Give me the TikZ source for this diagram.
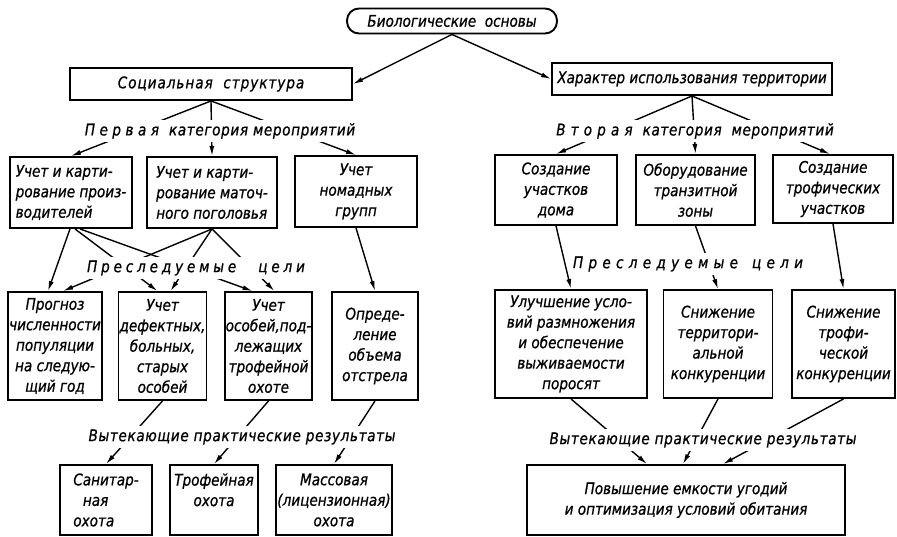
\documentclass[tikz,border=0pt]{standalone}
\usepackage{fontspec}
\setmainfont{DejaVu Sans}[FakeStretch=0.85, FakeBold=0.8]
\usetikzlibrary{arrows.meta}

\newcommand\spaced[2][30]{{\addfontfeature{LetterSpace=#1}#2}}

\begin{document}
\begin{tikzpicture}[x=1pt, y=-1pt, >={Latex[length=10pt,width=5pt]},
    font=\fontsize{16}{20.5}\selectfont\itshape,
    box/.style={draw, line width=1.9pt, align=center, inner sep=1pt},
    wire/.style={line width=1.4pt},
    tag/.style={fill=white, inner xsep=2pt, inner ysep=3.5pt}]
  \useasboundingbox (0,0) rectangle (897,537);

  \node (bio) at (452, 21) [box, rounded corners=12pt, minimum width=210, minimum height=25] {Биологические\ \ основы};
  \node (soc) at (211, 84) [box, minimum width=282, minimum height=32] {\spaced[6]{Социальная\ \ структура}};
  \node (har) at (692, 79) [box, minimum width=280, minimum height=32] {Характер использования территории};

  \node (A) at (71, 192.5) [box, align=left, minimum width=122, minimum height=71] {Учет и карти-\\рование произ-\\водителей};
  \node (B) at (212, 192.5) [box, align=left, minimum width=130, minimum height=71] {Учет и карти-\\рование маточ-\\ного поголовья};
  \node (C) at (356, 191.5) [box, minimum width=122, minimum height=71] {Учет\\номадных\\групп};
  \node (D) at (556, 190) [box, minimum width=122, minimum height=70] {Создание\\участков\\дома};
  \node (E) at (695.5, 190) [box, minimum width=119, minimum height=70] {Оборудование\\транзитной\\зоны};
  \node (F) at (833, 189) [box, minimum width=120, minimum height=68] {Создание\\трофических\\участков};

  \node (P) at (55, 346) [box, minimum width=90, minimum height=108] {Прогноз\\численности\\популяции\\на следую-\\щий год};
  \node (Dk) at (162.5, 346) [box, minimum width=85, minimum height=108] {Учет\\дефектных,\\больных,\\старых\\особей};
  \node (Os) at (268.5, 346) [box, minimum width=87, minimum height=108] {Учет\\особей,под-\\лежащих\\трофейной\\охоте};
  \node (Op) at (375, 346) [box, minimum width=86, minimum height=108] {Опреде-\\ление\\объема\\отстрела};
  \node (U) at (571, 344) [box, minimum width=152, minimum height=108] {Улучшение усло-\\вий размножения\\и обеспечение\\выживаемости\\поросят};
  \node (Sn1) at (718, 344) [box, minimum width=109, minimum height=108] {Снижение\\территори-\\альной\\конкуренции};
  \node (Sn2) at (843.5, 344) [box, minimum width=103, minimum height=108] {Снижение\\трофи-\\ческой\\конкуренции};

  \node (San) at (106, 500) [box, align=left, minimum width=92, minimum height=70] {Санитар-\\\hspace*{0.6em}ная\\охота};
  \node (Tr) at (214, 500) [box, minimum width=88, minimum height=70] {Трофейная\\охота\\\mbox{}};
  \node (Mas) at (334, 500) [box, minimum width=108, minimum height=70] {Массовая\\(лицензионная)\\охота};
  \node (Pov) at (686, 500) [box, minimum width=318, minimum height=70] {Повышение емкости угодий\\и оптимизация условий обитания};

  \draw[->, wire] (bio.south) -- (soc.east);
  \draw[->, wire] (bio.south) -- (har.west);
  \draw[->, wire] (soc.south) -- (A.north);
  \draw[->, wire] (soc.south) -- (B.north);
  \draw[->, wire] (soc.south) -- (C.north);
  \draw[->, wire] (har.south) -- (D.north);
  \draw[->, wire] (har.south) -- (E.north);
  \draw[->, wire] (har.south) -- ([xshift=-3]F.north);

  \draw[->, wire] ([xshift=-1]A.south) -- ([xshift=-7]P.north);
  \draw[->, wire] ([xshift=4]A.south) -- ([xshift=-5]Dk.north);
  \draw[->, wire] ([xshift=9]A.south) -- ([xshift=-16]Os.north);
  \draw[->, wire] (B.south) -- ([xshift=8]P.north);
  \draw[->, wire] (B.south) -- ([xshift=8]Dk.north);
  \draw[->, wire] (B.south) -- ([xshift=6]Os.north);
  \draw[->, wire] (C.south) -- (Op.north);
  \draw[->, wire] (D.south) -- (U.north);
  \draw[->, wire] (E.south) -- (Sn1.north);
  \draw[->, wire] (F.south) -- (Sn2.north);

  \draw[->, wire] (Dk.south) -- (San.north);
  \draw[->, wire] (Os.south) -- (Tr.north);
  \draw[->, wire] (Op.south) -- (Mas.north);
  \draw[->, wire] (U.south) -- ([xshift=-39]Pov.north);
  \draw[->, wire] (Sn1.south) -- ([xshift=-3]Pov.north);
  \draw[->, wire] (Sn2.south) -- ([xshift=37]Pov.north);

  \node (cat1) at (220, 131) [tag] {\spaced[28]{Первая}\hspace{10pt}\spaced[4]{категория\ мероприятий}};
  \node (cat2) at (695, 131) [tag] {\spaced[32]{Вторая}\hspace{10pt}\spaced[4]{категория\ \ мероприятий}};
  \node (aim1) at (196, 268) [tag] {\spaced[24]{Преследуемые}\hspace{22pt}\spaced[24]{цели}};
  \node (aim2) at (688, 264) [tag] {\spaced[33]{Преследуемые}\hspace{14pt}\spaced[33]{цели}};
  \node (res1) at (242, 437) [tag] {\spaced[4]{Вытекающие практические результаты}};
  \node (res2) at (703, 440) [tag] {\spaced[4]{Вытекающие практические результаты}};
\end{tikzpicture}
\end{document}
